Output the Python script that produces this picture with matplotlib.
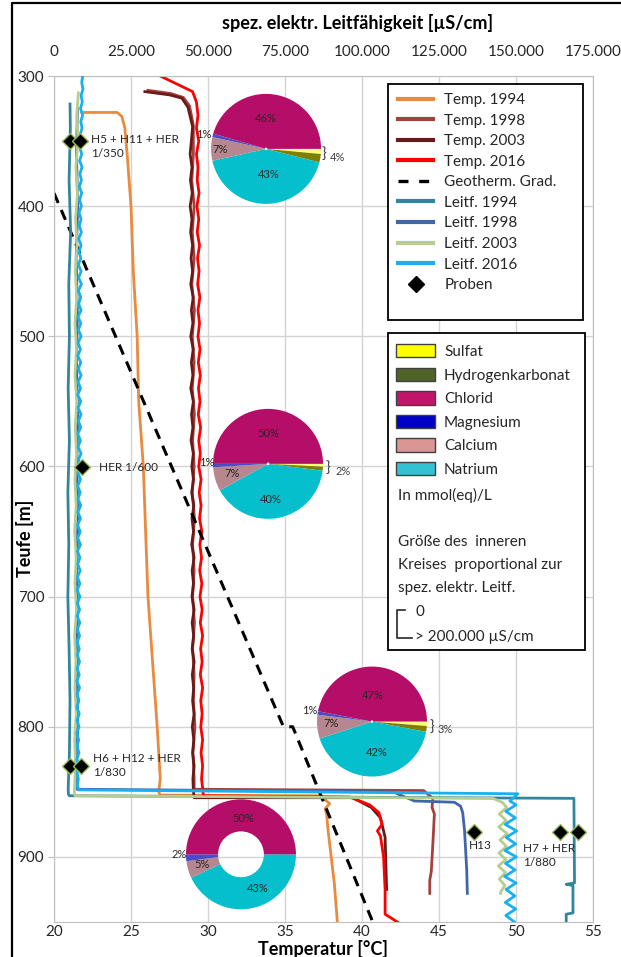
import matplotlib
matplotlib.use("Agg")
import matplotlib.pyplot as plt
from matplotlib.lines import Line2D
from matplotlib.patches import Patch, Rectangle

plt.rcParams["font.family"] = ["Lato", "DejaVu Sans"]
plt.rcParams["text.color"] = "#262626"

W, H = 621, 957
INK = "#262626"

# ---- temperature logs (degC over depth in m) ------------------------------ #
temp94_depth = [328, 328, 331, 340, 360, 400, 450, 500, 550, 600, 650, 700, 750, 800, 840,
                850, 852.5, 853, 859, 863, 867, 880, 900, 920, 950]
temp94_degC = [21.8, 24.1, 24.4, 24.6, 24.75, 25.0, 25.15, 25.4, 25.5, 25.8, 25.95, 26.1, 26.4,
               26.7, 26.9, 26.8, 26.9, 37.3, 37.9, 37.6, 37.7, 37.8, 38.0, 38.2, 38.4]

temp98_depth = [311, 313.5, 316.5, 323, 338,
                360, 380, 400, 420, 440, 460, 480, 500, 520, 540, 560, 580, 600, 620, 640,
                660, 680, 700, 720, 740, 760, 780, 800, 820, 840,
                848, 849, 855, 862, 867, 890, 911, 918, 928]
temp98_degC = [26.1, 27.6, 28.4, 28.8, 29.05,
               29.05, 28.95, 29.1, 28.98, 29.1, 28.95, 29.12, 28.98, 29.1, 28.98, 29.12, 29.0,
               29.1, 28.98, 29.12, 29.0, 29.1, 29.0, 29.12, 29.0, 29.1, 29.05, 29.15, 29.02, 29.1,
               29.1, 44.0, 44.6, 44.55, 44.7, 44.6, 44.5, 44.4, 44.4]

temp03_depth = [312, 314.5, 317, 324, 339,
                350, 360, 370, 380, 390, 400, 410, 420, 430, 440,
                450, 460, 470, 480, 490, 500, 510, 520, 530, 540,
                550, 560, 570, 580, 590, 600, 610, 620, 630, 640,
                650, 660, 670, 680, 690, 700, 710, 720, 730, 740,
                750, 760, 770, 780, 790, 800, 810, 820, 830, 840,
                849, 854.5, 854.5, 862, 870, 885, 925]
temp03_degC = [25.9, 27.5, 28.3, 28.7, 29.0,
               28.92, 28.84, 28.96, 28.86, 28.98, 28.84, 28.96, 28.87, 29.00, 28.90,
               29.00, 28.88, 29.04, 28.92, 29.02, 28.88, 29.04, 28.92, 29.02, 28.88,
               29.05, 28.93, 29.02, 28.90, 29.05, 28.95, 29.06, 28.94, 29.08, 28.96,
               29.06, 28.94, 29.10, 28.97, 29.06, 28.96, 29.10, 28.97, 29.07, 28.97,
               29.10, 28.98, 29.07, 29.00, 29.10, 28.98, 29.08, 29.00, 29.10, 29.02,
               29.05, 29.1, 39.4, 40.6, 41.2, 41.5, 41.6]

temp16_depth = [300, 312, 320,
                330, 340, 350, 360, 370, 380, 390, 400,
                410, 420, 430, 440, 450, 460, 470, 480, 490, 500,
                510, 520, 530, 540, 550, 560, 570, 580, 590, 600,
                610, 620, 630, 640, 650, 660, 670, 680, 690, 700,
                710, 720, 730, 740, 750, 760, 770, 780, 790, 800,
                810, 820, 830, 840,
                847, 853, 854, 860, 866, 875, 880, 884, 900, 925, 944, 950]
temp16_degC = [26.9, 29.0, 29.25,
               29.35, 29.25, 29.40, 29.25, 29.35, 29.30, 29.42, 29.28,
               29.40, 29.30, 29.45, 29.32, 29.42, 29.33, 29.47, 29.35, 29.45, 29.35,
               29.48, 29.37, 29.50, 29.38, 29.48, 29.37, 29.52, 29.40, 29.50, 29.40,
               29.55, 29.43, 29.55, 29.45, 29.60, 29.47, 29.58, 29.46, 29.60, 29.48,
               29.62, 29.50, 29.65, 29.52, 29.62, 29.50, 29.65, 29.53, 29.62, 29.53,
               29.65, 29.55, 29.65, 29.58,
               29.65, 29.7, 39.2, 40.5, 41.1, 41.3, 41.0, 41.2, 41.4, 41.5, 41.5, 42.3]

# geothermal gradient
geo_depth = [390, 800, 800, 950]
geo_degC = [20.0, 34.9, 35.5, 40.7]

# ---- conductivity logs (uS/cm over depth in m) ---------------------------- #
leit94_depth = [321.5, 340, 380, 420, 460, 500, 540, 580, 620, 660, 700, 740, 780, 820, 848,
                852, 853, 855, 920, 921, 922, 943, 944, 950]
leit94_cond = [5200, 5300, 4900, 5400, 4800, 5000, 4600, 5000, 4500, 4800, 4500, 4900, 5200,
               5000, 4600, 4700, 5000, 168800, 169000, 166300, 168500, 168500, 166300, 166300]

leit98_depth = [325, 360, 400, 440, 480, 520, 560, 600, 640, 680, 720, 760, 800, 840, 848,
                850, 857, 858, 861, 866, 880, 910, 928]
leit98_cond = [7600, 7300, 7700, 7200, 7600, 7300, 7700, 7400, 7800, 7300, 7600, 7400, 7700,
               7300, 7500, 110000, 117000, 130000, 132000, 132700, 133300, 134000, 134200]

leit03_depth = [313, 330, 350, 370, 390, 410, 430, 450, 470, 490, 510, 530, 550, 570, 590,
                610, 630, 650, 670, 690, 710, 730, 750, 770, 790, 810, 830, 850, 853,
                855, 858, 862, 867, 872, 877, 882, 887, 892, 897, 902, 907, 912, 917, 922,
                927, 928]
leit03_cond = [7900, 7400, 7800, 7100, 7600, 7000, 7500, 6900, 7400, 6800, 7300, 6800, 7400,
               6900, 7300, 6800, 7200, 6700, 7200, 6800, 7300, 6700, 7100, 6800, 7200, 6700,
               7000, 6600, 6800,
               142500, 145500, 147000, 144600, 146800, 144400, 147100, 144800, 146900,
               144500, 146700, 144300, 146600, 144600, 146400, 145000, 145000]

leit16_depth = [300, 305, 310, 315, 320, 325, 330, 335, 340, 345,
                350, 355, 360, 365, 370, 375, 380, 385, 390, 395,
                400, 405, 410, 415, 420, 425, 430, 435, 440, 445,
                450, 455, 460, 465, 470, 475, 480, 485, 490, 495,
                500, 505, 510, 515, 520, 525, 530, 535, 540, 545,
                550, 555, 560, 565, 570, 575, 580, 585, 590, 595,
                600, 605, 610, 615, 620, 625, 630, 635, 640, 645,
                650, 655, 660, 665, 670, 675, 680, 685, 690, 695,
                700, 705, 710, 715, 720, 725, 730, 735, 740, 745,
                750, 755, 760, 765, 770, 775, 780, 785, 790, 795,
                800, 805, 810, 815, 820, 825, 830, 835, 840, 845,
                848.5, 851.5, 857,
                860, 865, 870, 875, 880, 885, 890, 895, 900, 905,
                910, 915, 920, 925, 930, 935, 940, 945, 950]
leit16_cond = [9300, 9000, 9400, 8800, 9200, 8600, 9300, 8700, 9100, 8500,
               9200, 8400, 9000, 8300, 9100, 8400, 8900, 8200, 9000, 8300,
               8900, 8100, 8800, 8200, 8900, 8000, 8800, 8100, 8700, 7900,
               8800, 8000, 8900, 7900, 8700, 8000, 8800, 7800, 8700, 7900,
               8800, 7800, 8600, 7700, 8700, 7900, 8800, 7800, 8600, 7700,
               8700, 7800, 8800, 7900, 8700, 7700, 8600, 7800, 8800, 7900,
               8700, 7800, 8600, 7700, 8500, 7800, 8700, 7700, 8600, 7600,
               8500, 7700, 8600, 7600, 8400, 7700, 8500, 7600, 8400, 7500,
               8400, 7600, 8300, 7500, 8400, 7600, 8300, 7500, 8200, 7600,
               8300, 7500, 8200, 7400, 8300, 7500, 8100, 7400, 8200, 7500,
               8100, 7400, 8000, 7500, 8100, 7400, 8000, 7500, 7900, 7600,
               7900, 150600, 148000,
               150000, 146700, 149800, 146500, 150200, 146800, 149900, 146400, 150100, 146600,
               149700, 146300, 150000, 146800, 149600, 146500, 149900, 146700, 149500]

# ---- water samples -------------------------------------------------------- #
proben_cond = [5200, 8400, 9000, 5200, 8700, 136400, 164300, 170200]
proben_depth = [350, 350, 600.5, 830.5, 830.5, 880.5, 880.5, 880.5]
proben_text = ["H5 + H11 + HER\n1/350", "HER 1/600", "H6 + H12 + HER\n1/830", "H13",
               "H7 + HER\n1/880"]
proben_text_cond = [12000, 14600, 12700, 134700, 152300]
proben_text_depth = [354, 600.5, 829.6, 891.5, 899]

# ---- ion composition, mmol(eq)/L share in % -------------------------------- #
IONS = ["Sulfat", "Hydrogenkarbonat", "Chlorid", "Magnesium", "Calcium", "Natrium"]
pie_depth = [356, 598, 796, 898]
pie_degC = [33.77, 33.9, 40.65, 32.14]
pie_cond = [8500, 9000, 8000, 150000]
sulfat = [1.5, 0.8, 1.3, 0]
hydrogenkarbonat = [2.5, 1.2, 1.7, 0]
chlorid = [46, 50, 47, 50]
magnesium = [1, 1, 1, 2]
calcium = [7, 7, 7, 5]
natrium = [43, 40, 42, 43]

PIE_COLORS = {"Sulfat": "#FFFF80", "Hydrogenkarbonat": "#7F7F00", "Chlorid": "#B50E68",
              "Magnesium": "#4B4BC8", "Calcium": "#B6878F", "Natrium": "#05BFCC"}
KEY_COLORS = {"Sulfat": "#FFFF00", "Hydrogenkarbonat": "#4F6228", "Chlorid": "#C0156B",
              "Magnesium": "#0000C8", "Calcium": "#D99694", "Natrium": "#33C1D3"}
# label anchors inside each pie (pie radius = 1)
PIE_LABEL_POS = [
    {"Chlorid": (0.0, 0.56), "Magnesium": (-1.13, 0.27), "Calcium": (-0.84, -0.02),
     "Natrium": (0.04, -0.47), "brace": (1.01, -0.11), "rest": (1.16, -0.15)},
    {"Chlorid": (0.0, 0.55), "Magnesium": (-1.11, 0.02), "Calcium": (-0.65, -0.18),
     "Natrium": (0.04, -0.64), "brace": (1.05, -0.09), "rest": (1.22, -0.13)},
    {"Chlorid": (0.02, 0.47), "Magnesium": (-1.13, 0.21), "Calcium": (-0.75, -0.04),
     "Natrium": (0.09, -0.56), "brace": (1.05, -0.11), "rest": (1.19, -0.15)},
    {"Chlorid": (0.04, 0.65), "Magnesium": (-1.13, 0.0), "Calcium": (-0.7, -0.18),
     "Natrium": (0.31, -0.62)},
]

# ---- figure / axes --------------------------------------------------------- #
fig = plt.figure(figsize=(W / 100, H / 100), dpi=100)


def fpx(x, y):
    """pixel (from top-left) -> figure fraction"""
    return x / W, 1 - y / H


ax = fig.add_axes([54 / W, 1 - 922 / H, (593 - 54) / W, (922 - 76) / H])
ax.set_xlim(20, 55)
ax.set_ylim(950, 300)
ax.set_xticks(range(20, 56, 5))
ax.set_yticks(range(300, 901, 100))
ax.grid(True, color="#D4D4D4", linewidth=1.0)
ax.set_axisbelow(True)
for sp in ax.spines.values():
    sp.set_color("#BFBFBF")
ax.tick_params(axis="x", length=0, pad=2, labelsize=11, labelcolor=INK)
ax.tick_params(axis="y", length=4, color="#BFBFBF", pad=3, labelsize=11, labelcolor=INK)

ax2 = ax.twiny()
ax2.set_xlim(0, 175000)
ax2.set_xticks(range(0, 175001, 25000))
ax2.set_xticklabels([f"{v:,}".replace(",", ".") for v in range(0, 175001, 25000)])
ax2.tick_params(axis="x", length=0, pad=12, labelsize=11, labelcolor=INK)
for sp in ax2.spines.values():
    sp.set_visible(False)

ax.set_xlabel("Temperatur [°C]", fontsize=13, fontweight="bold")
ax.xaxis.set_label_coords(0.5, -0.021)
ax.set_ylabel("Teufe [m]", fontsize=13, fontweight="bold")
ax.yaxis.set_label_coords(-0.054, 0.453)
ax.yaxis.label.set_va("center")
ax2.set_xlabel("spez. elektr. Leitfähigkeit [µS/cm]", fontsize=13, fontweight="bold")
ax2.xaxis.set_label_coords(0.564, 1.055)

LW = 2.0
styles = [
    ("Temp. 1994", "#E98A3E", "-"),
    ("Temp. 1998", "#A6403C", "-"),
    ("Temp. 2003", "#6B1A1A", "-"),
    ("Temp. 2016", "#FF0000", "-"),
    ("Geotherm. Grad.", "#000000", "--"),
    ("Leitf. 1994", "#31869B", "-"),
    ("Leitf. 1998", "#4066A8", "-"),
    ("Leitf. 2003", "#B5CD8E", "-"),
    ("Leitf. 2016", "#18B0F0", "-"),
]
col = {name: c for name, c, _ in styles}

ax.plot(temp94_degC, temp94_depth, color=col["Temp. 1994"], lw=LW)
ax.plot(temp98_degC, temp98_depth, color=col["Temp. 1998"], lw=LW)
ax.plot(temp03_degC, temp03_depth, color=col["Temp. 2003"], lw=LW)
ax.plot(temp16_degC, temp16_depth, color=col["Temp. 2016"], lw=LW)
ax.plot(geo_degC, geo_depth, color="black", lw=2.2, dashes=(3.5, 2.5))

ax2.plot(leit94_cond, leit94_depth, color=col["Leitf. 1994"], lw=LW)
ax2.plot(leit98_cond, leit98_depth, color=col["Leitf. 1998"], lw=LW)
ax2.plot(leit03_cond, leit03_depth, color=col["Leitf. 2003"], lw=LW)
ax2.plot(leit16_cond, leit16_depth, color=col["Leitf. 2016"], lw=LW)
ax2.plot(proben_cond, proben_depth, ls="none", marker="D", markersize=8,
         markerfacecolor="black", markeredgecolor="#9BBB59", markeredgewidth=1.0)
for txt, c, d in zip(proben_text, proben_text_cond, proben_text_depth):
    ax2.text(c, d, txt, fontsize=8.5, ha="left", va="center", linespacing=1.3, color=INK)

# ---- composition pies ------------------------------------------------------ #
R_PX = 55
inv = fig.transFigure.inverted()
draw_order = ["Sulfat", "Hydrogenkarbonat", "Natrium", "Calcium", "Magnesium", "Chlorid"]
shares = {"Sulfat": sulfat, "Hydrogenkarbonat": hydrogenkarbonat, "Chlorid": chlorid,
          "Magnesium": magnesium, "Calcium": calcium, "Natrium": natrium}
for i, (t, d) in enumerate(zip(pie_degC, pie_depth)):
    cx, cy = ax.transData.transform((t, d))
    x0, y0 = inv.transform((cx - R_PX, cy - R_PX))
    x1, y1 = inv.transform((cx + R_PX, cy + R_PX))
    pax = fig.add_axes([x0, y0, x1 - x0, y1 - y0])
    vals = [shares[k][i] for k in draw_order]
    hole = pie_cond[i] / 360000
    pax.pie(vals, colors=[PIE_COLORS[k] for k in draw_order], startangle=0, counterclock=False,
            radius=1, wedgeprops=dict(width=1 - hole, linewidth=0))
    pax.set_xlim(-1, 1)
    pax.set_ylim(-1, 1)
    pax.set_aspect("equal")
    pax.axis("off")
    pos = PIE_LABEL_POS[i]
    for k in ("Chlorid", "Magnesium", "Calcium", "Natrium"):
        pax.text(*pos[k], f"{shares[k][i]:.0f}%", fontsize=8, ha="center", va="center",
                 color=INK, clip_on=False)
    rest = sulfat[i] + hydrogenkarbonat[i]
    if rest > 0:
        pax.text(*pos["brace"], "}", fontsize=11, ha="left", va="center", color="#404040",
                 clip_on=False)
        pax.text(*pos["rest"], f"{rest:.0f}%", fontsize=8, ha="left", va="center",
                 color="#404040", clip_on=False)

# ---- legends --------------------------------------------------------------- #
for (x0, y0, x1, y1) in [(388, 84, 583, 320), (388, 333, 585, 650)]:
    fx0, fy1 = fpx(x0, y0)
    fx1, fy0 = fpx(x1, y1)
    fig.add_artist(Rectangle((fx0, fy0), fx1 - fx0, fy1 - fy0, transform=fig.transFigure,
                             facecolor="white", edgecolor="black", linewidth=1.3, zorder=4))

LEG_FS = 11
line_handles = []
for name, c, ls in styles:
    if ls == "--":
        line_handles.append(Line2D([], [], color=c, lw=2.4, dashes=(3, 3.2)))
    else:
        line_handles.append(Line2D([], [], color=c, lw=3))
line_handles.append(Line2D([], [], ls="none", marker="D", markersize=8, color="black"))
line_labels = [s[0] for s in styles] + ["Proben"]
leg1 = fig.legend(line_handles, line_labels, loc="upper left", bbox_to_anchor=fpx(398, 93),
                  frameon=False, borderpad=0, borderaxespad=0, fontsize=LEG_FS,
                  handlelength=2.3, handletextpad=0.72, labelspacing=0.43)
leg1.set_zorder(5)

ion_handles = [Patch(facecolor=KEY_COLORS[k], edgecolor="#404040", linewidth=1.0) for k in IONS]
leg2 = fig.legend(ion_handles, IONS, loc="upper left", bbox_to_anchor=fpx(396, 344),
                  frameon=False, borderpad=0, borderaxespad=0, fontsize=LEG_FS,
                  handlelength=2.55, handleheight=0.98, handletextpad=0.59, labelspacing=0.56)
leg2.set_zorder(5)

note_lines = [("In mmol(eq)/L", 495), ("Größe des  inneren", 542),
              ("Kreises  proportional zur", 565), ("spez. elektr. Leitf.", 588)]
for txt, y in note_lines:
    fig.text(*fpx(398, y), txt, fontsize=LEG_FS, ha="left", va="center", zorder=6)
fig.text(*fpx(415, 612), "0", fontsize=LEG_FS, ha="left", va="center", zorder=6)
fig.text(*fpx(415, 637), "> 200.000 µS/cm", fontsize=LEG_FS, ha="left", va="center", zorder=6)
bx = [405, 397, 397, 412]
by = [610, 610, 638, 638]
fig.add_artist(Line2D([x / W for x in bx], [1 - y / H for y in by], transform=fig.transFigure,
                      color=INK, lw=1.2, zorder=6))

# outer frame (left and top edge)
fig.add_artist(Line2D([12 / W, 12 / W, 1.0], [0.0, 1 - 3 / H, 1 - 3 / H],
                      transform=fig.transFigure, color="black", lw=1.6, zorder=6))

fig.savefig("out.png", dpi=100)
